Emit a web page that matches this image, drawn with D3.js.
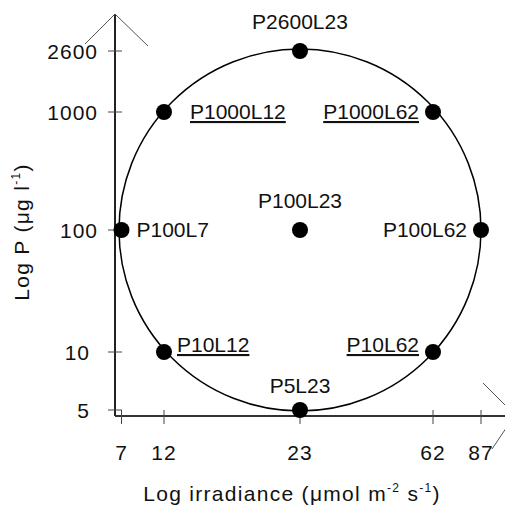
<!DOCTYPE html>
<html>
<head>
<meta charset="utf-8">
<script src="https://cdn.jsdelivr.net/npm/d3@7"></script>
<style>
  html, body { margin: 0; padding: 0; background: #fff; }
  svg { display: block; }
  text { font-family: "Liberation Sans", Arial, sans-serif; fill: #111; }
</style>
</head>
<body>
<svg id="chart" width="505" height="508"></svg>
<script>
// ---- data ----
const irradianceTicks = [7, 12, 23, 62, 87];
const pTicks = [5, 10, 100, 1000, 2600];
const pointNames = ["P2600L23", "P1000L12", "P1000L62", "P100L7", "P100L23", "P100L62", "P10L12", "P10L62", "P5L23"];
const pointP = [2600, 1000, 1000, 100, 100, 100, 10, 10, 5];
const pointL = [23, 12, 62, 7, 23, 87, 12, 62, 23];
const pointUnderlined = [false, true, true, false, false, false, true, true, false];

const points = pointNames.map((n, i) => ({ name: n, p: pointP[i], l: pointL[i], u: pointUnderlined[i] }));

const svg = d3.select("#chart");

// schematic log scales (piecewise, as in the design diagram)
const x = d3.scaleLog().domain(irradianceTicks).range([121.5, 164, 300, 433, 481]);
const y = d3.scaleLog().domain(pTicks).range([410, 352, 230, 112, 51]);

const axisX = 115, axisY = 416;

// axes lines
svg.append("line").attr("x1", axisX).attr("x2", axisX).attr("y1", 14).attr("y2", axisY)
  .attr("stroke", "#222").attr("stroke-width", 2);
svg.append("line").attr("x1", axisX).attr("x2", 505).attr("y1", axisY).attr("y2", axisY)
  .attr("stroke", "#333").attr("stroke-width", 2);

// arrows
svg.append("polyline").attr("points", "85,44 115,14 148,46")
  .attr("fill", "none").attr("stroke", "#555").attr("stroke-width", 1);
svg.append("polyline").attr("points", "483,383 515,415 492,449")
  .attr("fill", "none").attr("stroke", "#555").attr("stroke-width", 1);

// y ticks
const yAxis = svg.append("g");
yAxis.selectAll("line").data(pTicks).join("line")
  .attr("x1", axisX - 7).attr("x2", axisX + 7)
  .attr("y1", d => y(d)).attr("y2", d => y(d))
  .attr("stroke", "#444").attr("stroke-width", 1);
yAxis.selectAll("text").data(pTicks).join("text")
  .attr("x", d => d < 100 ? 90 : 98).attr("y", d => y(d))
  .attr("dy", "0.36em").attr("text-anchor", "end")
  .attr("letter-spacing", 1)
  .attr("font-size", 21).text(d => d);

// x ticks
const xAxis = svg.append("g");
xAxis.selectAll("line").data(irradianceTicks).join("line")
  .attr("x1", d => x(d)).attr("x2", d => x(d))
  .attr("y1", axisY - 6).attr("y2", axisY + 8)
  .attr("stroke", "#444").attr("stroke-width", 1);
xAxis.selectAll("text").data(irradianceTicks).join("text")
  .attr("x", d => x(d)).attr("y", 460)
  .attr("text-anchor", "middle").attr("font-size", 21).attr("letter-spacing", 1).text(d => d);

// circle
const cx = x(23), cy = y(100);
const r = x(87) - x(23);
svg.append("circle").attr("cx", cx).attr("cy", cy).attr("r", r)
  .attr("fill", "none").attr("stroke", "#000").attr("stroke-width", 1.5);

// points
svg.append("g").selectAll("circle").data(points).join("circle")
  .attr("cx", d => x(d.l)).attr("cy", d => y(d.p)).attr("r", 8).attr("fill", "#000");

// labels
const dxRight = { "P1000L12": 26, "P100L7": 15, "P10L12": 13 };
svg.append("g").selectAll("text").data(points).join("text")
  .attr("font-size", 21)
  .attr("text-decoration", d => d.u ? "underline" : null)
  .attr("text-anchor", d => d.l === 23 ? "middle" : (d.l < 23 ? "start" : "end"))
  .attr("x", d => {
    if (d.l === 23) return x(d.l);
    if (d.l < 23) return x(d.l) + (dxRight[d.name] || 14);
    return x(d.l) - 14;
  })
  .attr("y", d => {
    if (d.l === 23) return y(d.p) - (d.p === 5 ? 17 : 22);
    if (d.p === 10) return y(d.p) - 0;
    return y(d.p) + 7;
  })
  .text(d => d.name);

// axis titles
const xt = svg.append("text").attr("x", 292).attr("y", 501).attr("text-anchor", "middle")
  .attr("font-size", 21).attr("letter-spacing", 1.3);
xt.append("tspan").text("Log irradiance (\u03bcmol m");
xt.append("tspan").attr("font-size", 12).attr("dy", -9).text("-2");
xt.append("tspan").attr("dy", 9).text(" s");
xt.append("tspan").attr("font-size", 12).attr("dy", -9).text("-1");
xt.append("tspan").attr("dy", 9).text(")");

const yt = svg.append("text").attr("transform", "translate(29,232) rotate(-90)")
  .attr("text-anchor", "middle").attr("font-size", 21).attr("letter-spacing", 1.3);
yt.append("tspan").text("Log P (\u03bcg l");
yt.append("tspan").attr("font-size", 12).attr("dy", -9).text("-1");
yt.append("tspan").attr("dy", 9).text(")");
</script>
</body>
</html>
